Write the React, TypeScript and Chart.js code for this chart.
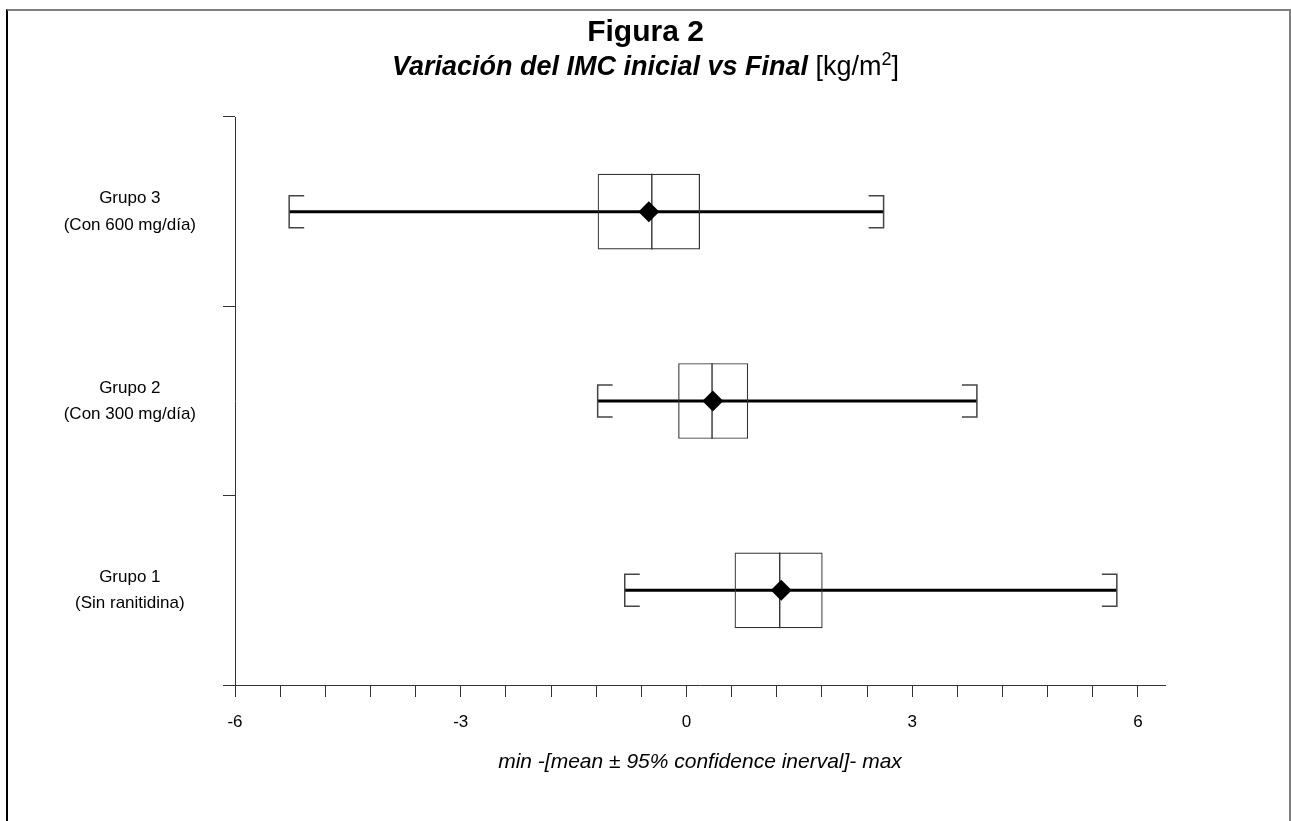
import React, { useEffect, useRef } from 'react';
import { Chart, registerables } from 'chart.js';

Chart.register(...registerables);

// ---- data ----
const groupLabels: string[][] = [
  ['Grupo 3', '(Con 600 mg/día)'],
  ['Grupo 2', '(Con 300 mg/día)'],
  ['Grupo 1', '(Sin ranitidina)'],
];
const minValues = [-5.28, -1.18, -0.82];
const ciLowValues = [-1.18, -0.11, 0.64];
const centerValues = [-0.46, 0.34, 1.24];
const ciHighValues = [0.18, 0.82, 1.81];
const maxValues = [2.62, 3.86, 5.72];
const meanValues = [-0.5, 0.35, 1.26];
const xTickLabels = [-6, -3, 0, 3, 6];
const xMinorStep = 0.6;
const xMin = -6;
const xMax = 6.36;

const titleText = 'Figura 2';
const subtitleBold = 'Variación del IMC inicial vs Final';
const subtitleUnit = ' [kg/m';
const subtitleSup = '2';
const subtitleEnd = ']';
const xAxisTitle = 'min -[mean ± 95% confidence inerval]- max';

const FONT = "'Liberation Sans', Arial, Helvetica, sans-serif";

const W = 1291;
const H = 821;

const whiskerPlugin = {
  id: 'whiskers',
  beforeDatasetsDraw(chart: any) {
    const { ctx } = chart;
    const xs = chart.scales.x;
    const ys = chart.scales.y;
    ctx.save();
    groupLabels.forEach((_, i) => {
      const y = ys.getPixelForValue(i);
      const xMinP = xs.getPixelForValue(minValues[i]);
      const xMaxP = xs.getPixelForValue(maxValues[i]);
      // main line
      ctx.strokeStyle = '#000';
      ctx.lineWidth = 3;
      ctx.beginPath();
      ctx.moveTo(xMinP, y);
      ctx.lineTo(xMaxP, y);
      ctx.stroke();
      // brackets
      const bh = 16;
      const arm = 15;
      ctx.strokeStyle = '#444';
      ctx.lineWidth = 1.5;
      ctx.beginPath();
      ctx.moveTo(xMinP + arm, y - bh);
      ctx.lineTo(xMinP, y - bh);
      ctx.lineTo(xMinP, y + bh);
      ctx.lineTo(xMinP + arm, y + bh);
      ctx.moveTo(xMaxP - arm, y - bh);
      ctx.lineTo(xMaxP, y - bh);
      ctx.lineTo(xMaxP, y + bh);
      ctx.lineTo(xMaxP - arm, y + bh);
      ctx.stroke();
      // center line in box
      const half = (ys.getPixelForValue(1) - ys.getPixelForValue(0)) * 0.4 / 2;
      const xc = xs.getPixelForValue(centerValues[i]);
      ctx.strokeStyle = '#111';
      ctx.lineWidth = 1.2;
      ctx.beginPath();
      ctx.moveTo(xc, y - half);
      ctx.lineTo(xc, y + half);
      ctx.stroke();
    });
    ctx.restore();
  },
  afterDraw(chart: any) {
    const { ctx } = chart;
    const cx = chart.width / 2;
    ctx.save();
    ctx.fillStyle = '#000';
    ctx.textBaseline = 'middle';
    ctx.textAlign = 'left';
    // title
    ctx.font = `bold 30px ${FONT}`;
    const tw = ctx.measureText(titleText).width;
    ctx.fillText(titleText, cx - tw / 2, 33);
    // subtitle
    const fBold = `italic bold 27px ${FONT}`;
    const fNorm = `27px ${FONT}`;
    const fSup = `18px ${FONT}`;
    ctx.font = fBold;
    const w1 = ctx.measureText(subtitleBold).width;
    ctx.font = fNorm;
    const w2 = ctx.measureText(subtitleUnit).width;
    const w4 = ctx.measureText(subtitleEnd).width;
    ctx.font = fSup;
    const w3 = ctx.measureText(subtitleSup).width;
    let x = cx - (w1 + w2 + w3 + w4) / 2;
    const sy = 68;
    ctx.font = fBold;
    ctx.fillText(subtitleBold, x, sy);
    x += w1;
    ctx.font = fNorm;
    ctx.fillText(subtitleUnit, x, sy);
    x += w2;
    ctx.font = fSup;
    ctx.fillText(subtitleSup, x, sy - 8);
    x += w3;
    ctx.font = fNorm;
    ctx.fillText(subtitleEnd, x, sy);
    ctx.restore();
  },
};

export default function App() {
  const ref = useRef<HTMLCanvasElement | null>(null);

  useEffect(() => {
    if (!ref.current) return;
    const xTicks: number[] = [];
    const n = Math.round((xTickLabels[xTickLabels.length - 1] - xTickLabels[0]) / xMinorStep);
    for (let i = 0; i <= n; i++) xTicks.push(xTickLabels[0] + i * xMinorStep);

    const chart = new Chart(ref.current, {
      type: 'bar',
      data: {
        labels: groupLabels as any,
        datasets: [
          {
            type: 'scatter',
            data: meanValues.map((m, i) => ({ x: m, y: i })) as any,
            pointStyle: 'rectRot',
            pointRadius: 10.5,
            pointBackgroundColor: '#000',
            pointBorderColor: '#000',
            pointBorderWidth: 0,
            order: 0,
          } as any,
          {
            type: 'bar',
            indexAxis: 'y',
            data: ciLowValues.map((l, i) => [l, ciHighValues[i]]) as any,
            backgroundColor: 'rgba(0,0,0,0)',
            borderColor: '#333',
            borderWidth: 1.2,
            borderSkipped: false,
            barPercentage: 0.4,
            categoryPercentage: 1,
            order: 1,
          } as any,
        ],
      },
      options: {
        animation: false,
        responsive: false,
        maintainAspectRatio: false,
        indexAxis: 'y',
        layout: { padding: { left: 0, right: 126, top: 117, bottom: 0 } },
        plugins: {
          legend: { display: false },
          tooltip: { enabled: false },
          title: { display: false },
        },
        scales: {
          x: {
            type: 'linear',
            position: 'bottom',
            min: xMin,
            max: xMax,
            afterBuildTicks: (s: any) => {
              s.ticks = xTicks.map((v) => ({ value: v }));
            },
            afterFit: (s: any) => {
              s.height = H - 685;
            },
            ticks: {
              autoSkip: false,
              maxRotation: 0,
              padding: 15,
              color: '#000',
              font: { family: FONT, size: 17 },
              callback: (v: any) => {
                const hit = xTickLabels.find((t) => Math.abs(t - Number(v)) < 1e-6);
                return hit === undefined ? '' : String(hit);
              },
            },
            grid: {
              display: true,
              drawOnChartArea: false,
              drawTicks: true,
              tickLength: 12,
              color: '#333',
              lineWidth: 1,
            },
            border: { display: true, color: '#333', width: 1 },
            title: {
              display: true,
              text: xAxisTitle,
              color: '#000',
              font: { family: FONT, size: 21, style: 'italic' },
              padding: { top: 0, bottom: 46 },
            },
          },
          y: {
            type: 'category',
            position: 'left',
            labels: groupLabels as any,
            offset: true,
            afterFit: (s: any) => {
              s.width = 235;
            },
            ticks: {
              crossAlign: 'center',
              padding: 27,
              color: '#000',
              font: { family: FONT, size: 17, lineHeight: 1.55 },
            },
            grid: {
              display: true,
              offset: true,
              drawOnChartArea: false,
              drawTicks: true,
              tickLength: 12,
              color: '#333',
              lineWidth: 1,
            },
            border: { display: true, color: '#333', width: 1 },
          },
        },
      } as any,
      plugins: [whiskerPlugin],
    });
    return () => chart.destroy();
  }, []);

  return (
    <div style={{ position: 'fixed', left: 0, top: 0, width: W, height: H, background: '#fff', overflow: 'hidden' }}>
      <canvas ref={ref} width={W} height={H} style={{ position: 'absolute', left: 0, top: 0, width: W, height: H }} />
      <div
        style={{
          position: 'absolute',
          left: 6,
          top: 9,
          width: W - 6 - 4,
          height: H + 10,
          borderLeft: '2px solid #000',
          borderTop: '2px solid #808080',
          borderRight: '2px solid #808080',
          pointerEvents: 'none',
        }}
      />
    </div>
  );
}
